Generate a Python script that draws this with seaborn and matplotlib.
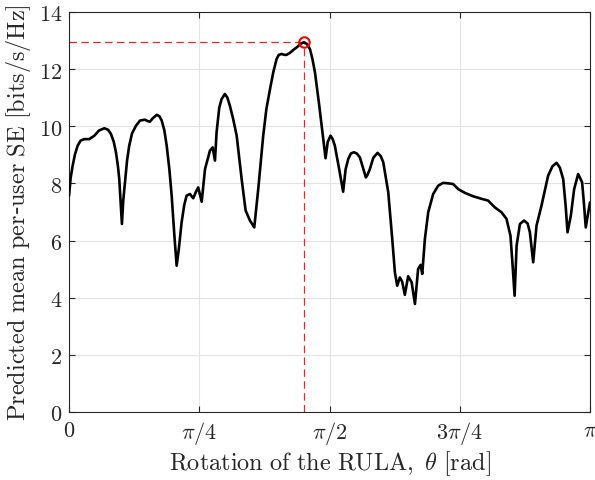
import numpy as np
import pandas as pd
import matplotlib
matplotlib.use("Agg")
import matplotlib.pyplot as plt
import seaborn as sns

theta = [0.0, 0.01, 0.022, 0.035, 0.052, 0.07, 0.092, 0.122, 0.153, 0.18, 0.213, 0.235,
         0.253, 0.27, 0.283, 0.295, 0.303, 0.312, 0.319, 0.327, 0.339, 0.35, 0.363, 0.38,
         0.404, 0.428, 0.458, 0.475, 0.488, 0.505, 0.529, 0.545, 0.559, 0.575, 0.589, 0.605,
         0.619, 0.635, 0.649, 0.662, 0.679, 0.695, 0.709, 0.729, 0.749, 0.765, 0.779, 0.800,
         0.820, 0.850, 0.866, 0.880, 0.89, 0.906, 0.92, 0.940, 0.955, 0.970, 0.99, 1.011,
         1.041, 1.065, 1.091, 1.117, 1.141, 1.171, 1.19, 1.212, 1.232, 1.252, 1.265, 1.282,
         1.30, 1.312, 1.332, 1.358, 1.373, 1.395, 1.417, 1.435, 1.453, 1.468, 1.483, 1.509,
         1.533, 1.547, 1.56, 1.577, 1.59, 1.603, 1.629, 1.653, 1.668, 1.684, 1.70, 1.718,
         1.735, 1.754, 1.775, 1.790, 1.80, 1.814, 1.835, 1.861, 1.88, 1.895, 1.925, 1.949,
         1.965, 1.979, 1.995, 2.009, 2.025, 2.045, 2.066, 2.086, 2.105, 2.120, 2.130, 2.146,
         2.166, 2.196, 2.226, 2.256, 2.29, 2.316, 2.347, 2.387, 2.437, 2.488, 2.527, 2.568,
         2.608, 2.638, 2.662, 2.675, 2.687, 2.699, 2.719, 2.744, 2.765, 2.779, 2.799, 2.819,
         2.849, 2.889, 2.915, 2.940, 2.96, 2.980, 2.995, 3.006, 3.026, 3.046, 3.070, 3.094,
         3.105, 3.116, 3.1416]
se = [7.57, 8.2, 8.62, 9.0, 9.32, 9.5, 9.55, 9.55, 9.67, 9.85, 9.93, 9.88,
      9.73, 9.45, 9.09, 8.6, 8.15, 7.3, 6.58, 7.4, 8.15, 8.8, 9.32, 9.75,
      10.02, 10.2, 10.23, 10.18, 10.16, 10.28, 10.4, 10.35, 10.2, 9.85, 9.32, 8.5,
      7.57, 6.2, 5.12, 5.7, 6.64, 7.25, 7.57, 7.63, 7.48, 7.7, 7.86, 7.36,
      8.5, 9.15, 9.26, 8.8, 9.8, 10.65, 10.95, 11.13, 11.0, 10.72, 10.25, 9.67,
      8.15, 7.05, 6.7, 6.46, 7.8, 9.67, 10.6, 11.3, 11.9, 12.36, 12.5, 12.53,
      12.5, 12.5, 12.57, 12.7, 12.76, 12.88, 12.94, 12.88, 12.7, 12.35, 11.89, 10.72,
      9.55, 8.88, 9.45, 9.67, 9.55, 9.32, 8.5, 7.71, 8.5, 8.86, 9.05, 9.09,
      9.05, 8.91, 8.5, 8.21, 8.3, 8.5, 8.9, 9.07, 8.95, 8.74, 7.69, 6.06,
      4.89, 4.42, 4.71, 4.56, 4.1, 4.75, 4.54, 3.78, 5.0, 5.15, 4.83, 6.06,
      6.99, 7.63, 7.92, 8.02, 8.0, 7.98, 7.8, 7.67, 7.55, 7.46, 7.4, 7.16,
      6.99, 6.76, 6.17, 5.12, 4.07, 5.82, 6.58, 6.7, 6.6, 6.29, 5.24, 6.52,
      7.22, 8.27, 8.6, 8.72, 8.55, 8.15, 7.2, 6.29, 6.87, 7.8, 8.33, 8.04,
      7.3, 6.46, 7.34]

peak_theta = 1.417
peak_se = 12.94

xtick_vals = [0, np.pi / 4, np.pi / 2, 3 * np.pi / 4, np.pi]
xtick_labels = [r"$0$", r"$\pi/4$", r"$\pi/2$", r"$3\pi/4$", r"$\pi$"]
ytick_vals = [0, 2, 4, 6, 8, 10, 12, 14]

sns.set_theme(style="white")
plt.rcParams["mathtext.fontset"] = "cm"
plt.rcParams["font.family"] = ["DejaVu Serif"]

df = pd.DataFrame({"theta": theta, "se": se})

fig = plt.figure(figsize=(5.95, 4.81), dpi=100)
ax = fig.add_axes([0.116, 0.1414, 0.8756, 0.8316])

ax.plot([0, peak_theta], [peak_se, peak_se], color="#e8262b", lw=0.9, dashes=(6, 3.5), zorder=1)
ax.plot([peak_theta, peak_theta], [0, peak_se], color="#e8262b", lw=0.9, dashes=(6, 3.5), zorder=1)

sns.lineplot(data=df, x="theta", y="se", ax=ax, color="black", lw=1.9, zorder=3)
ax.plot([peak_theta], [peak_se], marker="o", ms=7.5, mfc="none", mec="#ff0000", mew=1.5, zorder=4)

ax.set_xlim(0, np.pi)
ax.set_ylim(0, 14)
ax.set_xticks(xtick_vals)
ax.set_xticklabels(xtick_labels)
ax.set_yticks(ytick_vals)
ax.set_yticklabels([rf"${v}$" for v in ytick_vals])
ax.grid(True, color="#e3e3e3", lw=0.8)
ax.tick_params(direction="in", length=4, width=0.8, colors="#262626", labelsize=16,
               top=True, right=True, bottom=True, left=True, pad=5)
for s in ax.spines.values():
    s.set_color("#262626")
    s.set_linewidth(0.8)
ax.set_xlabel(r"$\mathrm{Rotation\ of\ the\ RULA,\ }\theta\mathrm{\ [rad]}$", fontsize=17.5, color="#262626", labelpad=2)
ax.set_ylabel(r"$\mathrm{Predicted\ mean\ per}$-$\mathrm{user\ SE\ [bits/s/Hz]}$", fontsize=17.5, color="#262626", labelpad=4)

fig.savefig("out.png", dpi=100)
